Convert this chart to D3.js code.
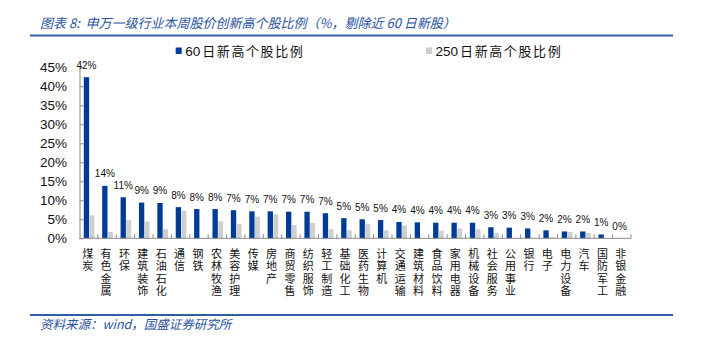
<!DOCTYPE html>
<html><head><meta charset="utf-8">
<script src="https://cdn.jsdelivr.net/npm/d3@7/dist/d3.min.js"></script>
<style>
html,body{margin:0;padding:0;background:#fff;}
svg{display:block;}
.cl{writing-mode:vertical-rl;text-orientation:upright;}
</style></head>
<body>
<svg id="c" width="703" height="343"></svg>
<script>
const categories = ["煤炭","有色金属","环保","建筑装饰","石油石化","通信","钢铁","农林牧渔","美容护理","传媒","房地产","商贸零售","纺织服饰","轻工制造","基础化工","医药生物","计算机","交通运输","建筑材料","食品饮料","家用电器","机械设备","社会服务","公用事业","银行","电子","电力设备","汽车","国防军工","非银金融"];
const high60 = [42.4,13.8,10.8,9.4,9.3,8.2,7.7,7.7,7.4,7.1,7.1,7.0,7.0,6.6,5.3,5.0,4.8,4.3,4.2,4.1,4.1,4.1,2.9,2.8,2.6,2.1,1.8,1.8,1.0,0];
const high250 = [6.05,1.7,4.8,4.4,2.4,7.2,0,4.5,3.8,5.7,6.3,3.5,4.0,2.4,2.1,3.7,2.1,3.4,0,2.0,2.6,2.4,1.4,0,0,0.3,1.7,1.4,0,0];
const yTicks = [0,5,10,15,20,25,30,35,40,45];
const seriesNames = ["60日新高个股比例","250日新高个股比例"];
const titleText = "图表 8:  申万一级行业本周股价创新高个股比例（%，剔除近 60 日新股）";
const sourceText = "资料来源：wind，国盛证券研究所";

const BLUE = "#003c97", GRAY = "#cfcfcf", AXIS = "#8a8a8a", TITLE = "#2a52a0";
const svg = d3.select("#c");
const CJK = "'Noto Sans CJK SC', sans-serif";
const LAT = "'Liberation Sans', Arial, sans-serif";

// title & lines
svg.append("text").attr("x",40).attr("y",28).attr("font-family",CJK).attr("font-style","italic")
  .attr("font-size",13).attr("fill",TITLE).attr("xml:space","preserve").text(titleText);
svg.append("line").attr("x1",30).attr("x2",673).attr("y1",35.5).attr("y2",35.5).attr("stroke","#2e5ea8").attr("stroke-width",2);
svg.append("line").attr("x1",30).attr("x2",673).attr("y1",315).attr("y2",315).attr("stroke","#2e5ea8").attr("stroke-width",2);
svg.append("text").attr("x",40).attr("y",328.5).attr("font-family",CJK).attr("font-style","italic")
  .attr("font-size",12.5).attr("fill",TITLE).text(sourceText);

const x = d3.scaleBand().domain(categories).range([79.5,631]).paddingInner(0).paddingOuter(0);
const y = d3.scaleLinear().domain([0,45]).range([238.3,67.3]);
const bw = x.bandwidth();

// y axis
const ya = svg.append("g").attr("transform","translate(79.5,0)")
  .call(d3.axisLeft(y).tickValues(yTicks).tickFormat(d=>d+"%").tickSizeInner(-4).tickSizeOuter(0).tickPadding(12.5));
ya.select(".domain").attr("stroke",AXIS);
ya.selectAll(".tick line").attr("stroke",AXIS);
ya.selectAll(".tick text").attr("font-family",LAT).attr("font-size",13.5).attr("fill","#111");

// bars
const g = svg.append("g");
g.selectAll("rect.b").data(categories).join("rect").attr("class","b")
  .attr("x",d=>x(d)+bw*0.234).attr("width",bw*0.29)
  .attr("y",(d,i)=>y(high60[i])).attr("height",(d,i)=>y(0)-y(high60[i])).attr("fill",BLUE);
g.selectAll("rect.g").data(categories).join("rect").attr("class","g")
  .attr("x",d=>x(d)+bw*0.544).attr("width",bw*0.27)
  .attr("y",(d,i)=>y(high250[i])).attr("height",(d,i)=>y(0)-y(high250[i])).attr("fill",GRAY);

// x axis line and ticks
svg.append("line").attr("x1",79.5).attr("x2",631).attr("y1",y(0)).attr("y2",y(0)).attr("stroke",AXIS);
const bounds = categories.map(d=>x(d)).concat([631]);
svg.selectAll("line.xt").data(bounds.slice(1)).join("line").attr("class","xt")
  .attr("x1",d=>d).attr("x2",d=>d).attr("y1",y(0)).attr("y2",y(0)-4).attr("stroke",AXIS);

// data labels
const fmt = d3.format(".0%");
svg.selectAll("text.dl").data(categories).join("text").attr("class","dl")
  .attr("x",d=>x(d)+bw*0.234+bw*0.145).attr("y",(d,i)=>y(high60[i])-8.5)
  .attr("text-anchor","middle").attr("font-family",LAT).attr("font-size",10).attr("fill","#111")
  .text((d,i)=>fmt(high60[i]/100));

// category labels (vertical text)
svg.selectAll("text.cl").data(categories).join("text").attr("class","cl")
  .attr("x",d=>x(d)+bw/2-1).attr("y",248)
  .attr("font-family",CJK).attr("font-size",11).attr("letter-spacing",1.6).attr("fill","#111")
  .text(d=>d);

// legend
const leg = [{c:BLUE,x:175.7},{c:GRAY,x:426}];
leg.forEach((l,i)=>{
  svg.append("rect").attr("x",l.x).attr("y",47.5).attr("width",6).attr("height",6.5).attr("fill",l.c);
  const name = seriesNames[i];
  const m = name.match(/^(\d+)(.*)$/);
  const t = svg.append("text").attr("x",l.x+9.5).attr("y",55.5).attr("font-size",13).attr("fill","#111");
  t.append("tspan").attr("font-family",LAT).attr("font-size",13.5).text(m[1]);
  t.append("tspan").attr("font-family",CJK).attr("dx",2).attr("letter-spacing",1.6).text(m[2]);
});
</script>
</body></html>
